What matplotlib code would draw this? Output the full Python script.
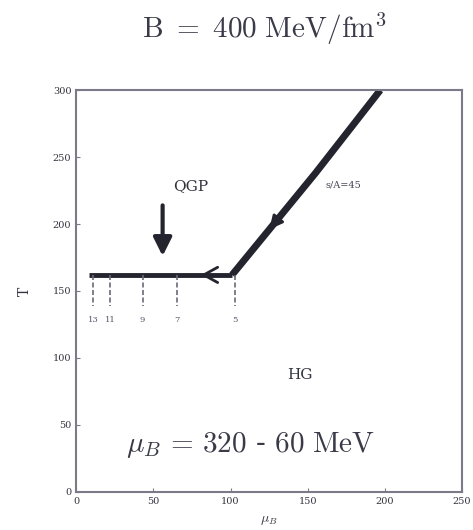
import matplotlib
matplotlib.use("Agg")
import matplotlib.pyplot as plt
import numpy as np

plt.rcParams["mathtext.fontset"] = "cm"
plt.rcParams["font.family"] = ["DejaVu Serif"]

# phase-boundary trajectory (mu_B in MeV, T in MeV)
traj_mu = [8, 101, 155, 197]
traj_T = [162, 162, 238, 300]

# collision energy markers along the boundary
energy_mu = [11, 22, 43, 65, 103]
energy_labels = ["13", "11", "9", "7", "5"]

x_ticks = [0, 50, 100, 150, 200, 250]
y_ticks = [0, 50, 100, 150, 200, 250, 300]

ink = "#24242e"
frame = "#7a7a88"

fig = plt.figure(figsize=(4.73, 5.30), dpi=100)
ax = fig.add_axes([0.161, 0.072, 0.816, 0.758])

ax.plot(traj_mu[:2], traj_T[:2], color=ink, lw=3.5, solid_capstyle="butt")
ax.plot(traj_mu[1:], traj_T[1:], color=ink, lw=5, solid_capstyle="butt")

# energy marker ticks hanging below the boundary
for m, lab in zip(energy_mu, energy_labels):
    ax.plot([m, m], [traj_T[0], 139], color="#6a6a78", lw=1.2, ls=(0, (3, 1.5)))
    ax.text(m, 128, lab, ha="center", va="center", fontsize=6, color="#55556a")

# arrowheads showing the direction of the trajectory
ax.annotate("", xy=(79, traj_T[0]), xytext=(87, traj_T[0]),
            arrowprops=dict(arrowstyle="->,head_length=1.0,head_width=0.55",
                            color=ink, lw=2))
d = np.array([traj_mu[2] - traj_mu[1], traj_T[2] - traj_T[1]], float)
d /= np.hypot(*d)
tip = (124, traj_T[1] + (124 - traj_mu[1]) * (traj_T[2] - traj_T[1]) / (traj_mu[2] - traj_mu[1]))
ax.annotate("", xy=tip, xytext=(tip[0] + 8 * d[0], tip[1] + 8 * d[1]),
            arrowprops=dict(arrowstyle="-|>,head_length=0.8,head_width=0.4",
                            color=ink, lw=2))

# QGP arrow
ax.annotate("", xy=(56, 174), xytext=(56, 216),
            arrowprops=dict(arrowstyle="-|>,head_length=1.1,head_width=0.55",
                            color=ink, lw=3))

ax.text(74, 228, "QGP", ha="center", va="center", fontsize=11, color="#333340")
ax.text(145, 87, "HG", ha="center", va="center", fontsize=11, color="#333340")
ax.text(173, 229, "s/A=45", ha="center", va="center", fontsize=7, color="#444455")
ax.text(113, 35, r"$\mu_B\,=\,320$ - $60\ \mathrm{MeV}$",
        ha="center", va="center", fontsize=21, color="#3a3a48")

ax.set_xlim(0, 250)
ax.set_ylim(0, 300)
ax.set_xticks(x_ticks)
ax.set_yticks(y_ticks)
ax.tick_params(direction="in", length=3, labelsize=7, colors=frame,
               labelcolor="#333340", top=False, right=False)
for s in ax.spines.values():
    s.set_color(frame)
    s.set_linewidth(1.5)

ax.set_xlabel(r"$\mu_B$", fontsize=10, color="#333340", labelpad=5)
ax.set_ylabel("T", fontsize=10, color="#333340", labelpad=15)

fig.text(0.558, 0.945, r"$\mathrm{B}\ =\ 400\ \mathrm{MeV/fm}^3$",
         ha="center", va="center", fontsize=21, color="#3a3a48")

fig.savefig("out.png", dpi=100)
